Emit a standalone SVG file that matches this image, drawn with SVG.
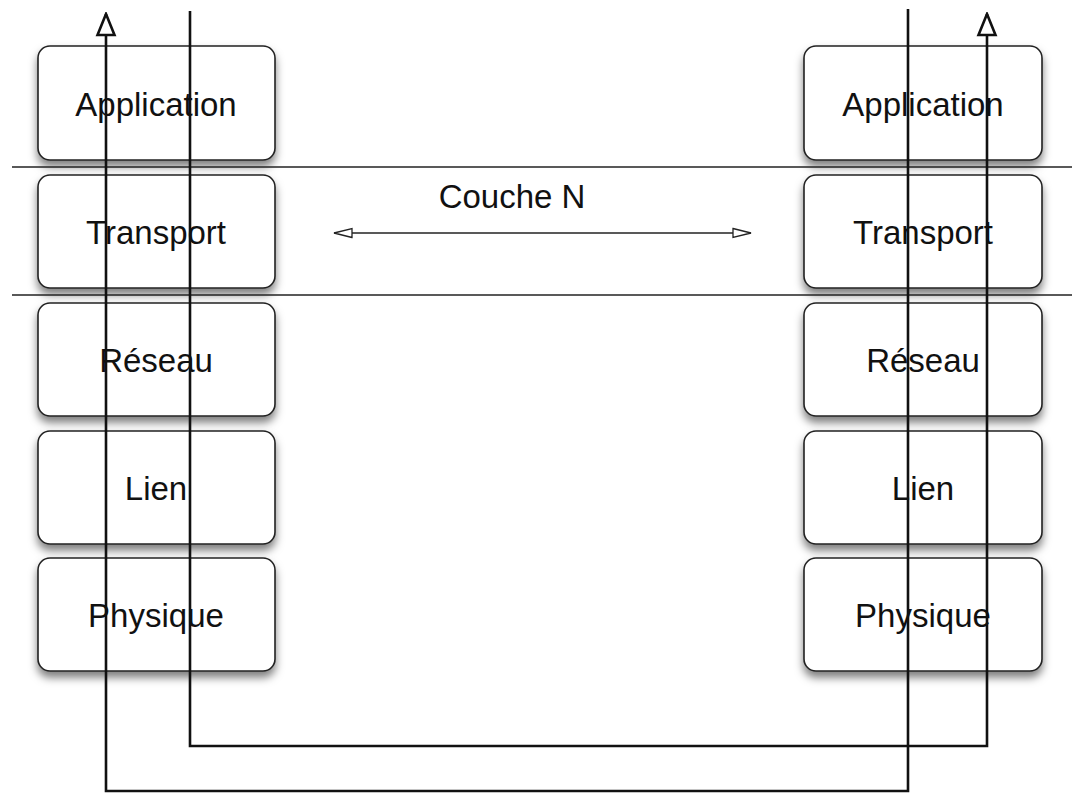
<svg xmlns="http://www.w3.org/2000/svg" width="1078" height="794" viewBox="0 0 1078 794">
<style>
.box{fill:#fff;stroke:#222;stroke-width:1.6;filter:url(#sh)}
.lbl{font-family:"Liberation Sans",Arial,sans-serif;font-size:33px;fill:#111;text-anchor:middle}
.wire{fill:none;stroke:#111;stroke-width:2.6}
.sep{stroke:#222;stroke-width:1.5}
.thin{stroke:#222;stroke-width:1.3}
</style>
<defs>
<filter id="sh" x="-10%" y="-10%" width="120%" height="140%">
<feDropShadow dx="0" dy="6" stdDeviation="4.5" flood-color="#000" flood-opacity="0.5"/>
</filter>
<marker id="bigArrow" viewBox="0 0 26 22" refX="24" refY="11" markerWidth="26" markerHeight="22" markerUnits="userSpaceOnUse" orient="auto">
<path d="M3,2.5 L24,11 L3,19.5 Z" fill="#fff" stroke="#111" stroke-width="2.6"/>
</marker>
<marker id="smArrow" viewBox="0 0 22 12" refX="20" refY="6" markerWidth="22" markerHeight="12" markerUnits="userSpaceOnUse" orient="auto-start-reverse">
<path d="M2,1.5 L20,6 L2,10.5 Z" fill="#fff" stroke="#222" stroke-width="1.3"/>
</marker>
</defs>
<rect width="1078" height="794" fill="#fff"/>
<g id="left-stack">
<g id="l-app"><rect class="box" x="38" y="46" width="237" height="114" rx="12"/><text class="lbl" x="156" y="116">Application</text></g>
<g id="l-trans"><rect class="box" x="38" y="175" width="237" height="113" rx="12"/><text class="lbl" x="156" y="244">Transport</text></g>
<g id="l-res"><rect class="box" x="38" y="303" width="237" height="113" rx="12"/><text class="lbl" x="156" y="372">Réseau</text></g>
<g id="l-lien"><rect class="box" x="38" y="431" width="237" height="113" rx="12"/><text class="lbl" x="156" y="500">Lien</text></g>
<g id="l-phys"><rect class="box" x="38" y="558" width="237" height="113" rx="12"/><text class="lbl" x="156" y="627">Physique</text></g>
</g>
<g id="right-stack">
<g id="r-app"><rect class="box" x="804" y="46" width="238" height="114" rx="12"/><text class="lbl" x="923" y="116">Application</text></g>
<g id="r-trans"><rect class="box" x="804" y="175" width="238" height="113" rx="12"/><text class="lbl" x="923" y="244">Transport</text></g>
<g id="r-res"><rect class="box" x="804" y="303" width="238" height="113" rx="12"/><text class="lbl" x="923" y="372">Réseau</text></g>
<g id="r-lien"><rect class="box" x="804" y="431" width="238" height="113" rx="12"/><text class="lbl" x="923" y="500">Lien</text></g>
<g id="r-phys"><rect class="box" x="804" y="558" width="238" height="113" rx="12"/><text class="lbl" x="923" y="627">Physique</text></g>
</g>
<g id="couche-label"><text class="lbl" x="512" y="208">Couche N</text></g>
<g id="connectors">
<line class="sep" x1="12" y1="167" x2="1072" y2="167"/>
<line class="sep" x1="12" y1="295" x2="1072" y2="295"/>
<line class="thin" x1="334" y1="233" x2="751" y2="233" marker-start="url(#smArrow)" marker-end="url(#smArrow)"/>
<path class="wire" d="M190,11 V746 H987 V14" marker-end="url(#bigArrow)"/>
<path class="wire" d="M908,9 V791 H106 V14" marker-end="url(#bigArrow)"/>
</g>
</svg>
